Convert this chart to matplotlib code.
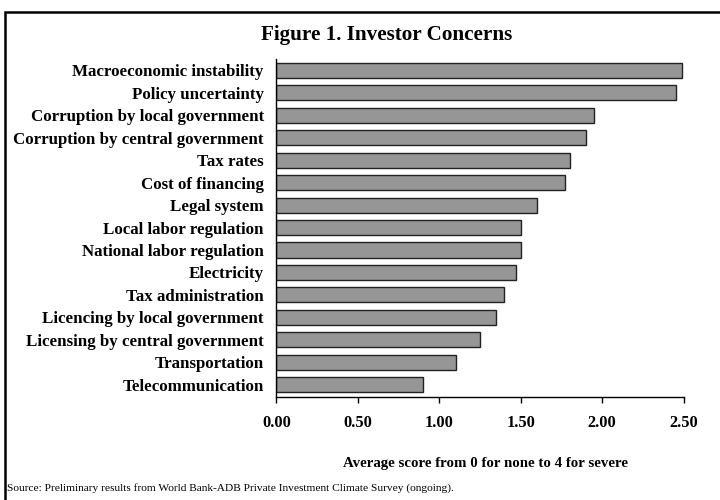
import matplotlib.pyplot as plt
from matplotlib.patches import Rectangle

plt.rcParams['font.family'] = ['Liberation Serif', 'DejaVu Serif']

concerns = ['Macroeconomic instability', 'Policy uncertainty',
            'Corruption by local government', 'Corruption by central government',
            'Tax rates', 'Cost of financing', 'Legal system',
            'Local labor regulation', 'National labor regulation', 'Electricity',
            'Tax administration', 'Licencing by local government',
            'Licensing by central government', 'Transportation',
            'Telecommunication']
scores = [2.49, 2.45, 1.95, 1.90, 1.80, 1.77, 1.60, 1.50, 1.50, 1.47,
          1.40, 1.35, 1.25, 1.10, 0.90]
xticks = [0.0, 0.5, 1.0, 1.5, 2.0, 2.5]

fig = plt.figure(figsize=(7.2, 5), dpi=100)
ax = fig.add_axes([0.3838, 0.2066, 0.5658, 0.6748])

ypos = list(range(len(concerns)))
ax.barh(ypos, scores, height=0.67, color='#969696', edgecolor='#222222', linewidth=1.0)
ax.set_ylim(len(concerns) - 0.47, -0.49)
ax.set_xlim(0, 2.5)
ax.set_yticks(ypos)
ax.set_yticklabels(concerns, fontsize=12.2, fontweight='bold')
ax.tick_params(axis='y', length=0, pad=9)
ax.set_xticks(xticks)
ax.set_xticklabels(['%.2f' % v for v in xticks], fontsize=11.8, fontweight='bold')
ax.tick_params(axis='x', direction='out', length=4, width=1, pad=9.5)
for s in ['top', 'right']:
    ax.spines[s].set_visible(False)
ax.spines['left'].set_linewidth(1)
ax.spines['bottom'].set_linewidth(1)

# frame around the chart, running off the right and bottom edges
fig.patches.append(Rectangle((5 / 720, -0.05), 1.0, 1 - 12 / 500 + 0.05,
                             transform=fig.transFigure, fill=False,
                             edgecolor='black', linewidth=1.8))

fig.text(387 / 720, 1 - 35 / 500, 'Figure 1. Investor Concerns',
         ha='center', va='center', fontsize=15.2, fontweight='bold')
fig.text(485 / 720, 1 - 464 / 500, 'Average score from 0 for none to 4 for severe',
         ha='center', va='center', fontsize=10.7, fontweight='bold')
fig.text(7 / 720, 1 - 488 / 500,
         'Source: Preliminary results from World Bank-ADB Private Investment Climate Survey (ongoing).',
         ha='left', va='center', fontsize=8.2)

fig.savefig('out.png', dpi=100)
